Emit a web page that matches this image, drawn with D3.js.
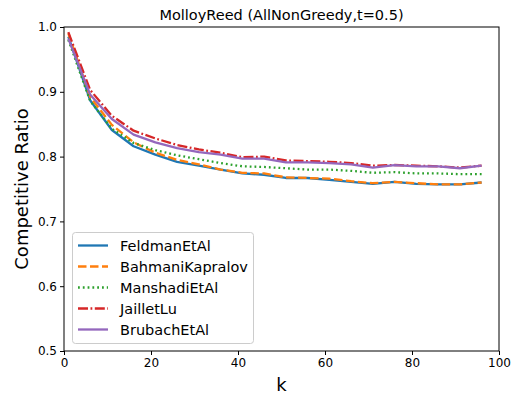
<!DOCTYPE html>
<html><head><meta charset="utf-8">
<script src="https://cdn.jsdelivr.net/npm/d3@7"></script>
<style>body{margin:0;background:#fff}svg{display:block;font-family:"DejaVu Sans",sans-serif}</style>
</head><body><svg id="c" width="520" height="396"></svg>
<script>
const ks = [1,6,11,16,21,26,31,36,41,46,51,56,61,66,71,76,81,86,91,96];
const feldman  = [0.985,0.887,0.841,0.816,0.803,0.792,0.786,0.780,0.774,0.772,0.767,0.767,0.764,0.761,0.758,0.761,0.758,0.757,0.757,0.760];
const bahmani  = [0.990,0.892,0.849,0.822,0.806,0.795,0.788,0.780,0.775,0.774,0.768,0.767,0.766,0.762,0.759,0.761,0.759,0.757,0.757,0.760];
const manshadi = [0.980,0.886,0.843,0.821,0.810,0.802,0.796,0.790,0.785,0.784,0.782,0.780,0.780,0.778,0.775,0.776,0.774,0.774,0.773,0.773];
const jaillet  = [0.992,0.903,0.863,0.840,0.828,0.818,0.811,0.806,0.799,0.800,0.794,0.793,0.792,0.790,0.786,0.787,0.786,0.785,0.783,0.786];
const brubach  = [0.982,0.896,0.858,0.834,0.822,0.813,0.807,0.803,0.797,0.797,0.791,0.791,0.790,0.788,0.783,0.787,0.785,0.785,0.782,0.786];
const seriesNames = ["FeldmanEtAl","BahmaniKapralov","ManshadiEtAl","JailletLu","BrubachEtAl"];
const seriesValues = [feldman,bahmani,manshadi,jaillet,brubach];
const xTicks = [0,20,40,60,80,100];
const yTicks = [0.5,0.6,0.7,0.8,0.9,1.0];
const colors = ["#1f77b4","#ff7f0e","#2ca02c","#d62728","#9467bd"];
const dashes = [null,"8.5,3.5","1.8,3","10,2.5,1.8,2.5",null];

const svg = d3.select("#c");
const L=64,R=499,T=27,B=351;
const x = d3.scaleLinear().domain([0,100]).range([L,R]);
const y = d3.scaleLinear().domain([0.5,1.0]).range([B,T]);

const line = d3.line().x((d,i)=>x(ks[i])).y(d=>y(d));
const g = svg.append("g");
seriesValues.forEach((vals,i)=>{
  g.append("path").attr("d",line(vals)).attr("fill","none")
   .attr("stroke",colors[i]).attr("stroke-width",2.3)
   .attr("stroke-dasharray",dashes[i]).attr("stroke-linejoin","round");
});

// frame
svg.append("rect").attr("x",L).attr("y",T).attr("width",R-L).attr("height",B-T)
  .attr("fill","none").attr("stroke","#000").attr("stroke-width",1);

const xa = svg.append("g").attr("transform",`translate(0,${B})`)
  .call(d3.axisBottom(x).tickValues(xTicks).tickFormat(d3.format("d")).tickSize(4).tickPadding(3));
const ya = svg.append("g").attr("transform",`translate(${L},0)`)
  .call(d3.axisLeft(y).tickValues(yTicks).tickFormat(d3.format(".1f")).tickSize(4).tickPadding(3));
[xa,ya].forEach(a=>{a.select(".domain").remove();
  a.selectAll("text").attr("font-size",12).attr("font-family","DejaVu Sans").attr("fill","#000");
  a.selectAll("line").attr("stroke","#000");});

svg.append("text").attr("x",(L+R)/2).attr("y",20).attr("text-anchor","middle")
  .attr("font-size",14.5).text("MolloyReed (AllNonGreedy,t=0.5)");
svg.append("text").attr("x",(L+R)/2).attr("y",391).attr("text-anchor","middle")
  .attr("font-size",18).text("k");
svg.append("text").attr("transform",`translate(28,${(T+B)/2}) rotate(-90)`).attr("text-anchor","middle")
  .attr("font-size",18).text("Competitive Ratio");

// legend
const lg = svg.append("g");
lg.append("rect").attr("x",72.5).attr("y",232.5).attr("width",181).attr("height",111).attr("rx",3)
  .attr("fill","#fff").attr("fill-opacity",0.8).attr("stroke","#ccc");
seriesNames.forEach((n,i)=>{
  const yy = 245.5 + i*21;
  lg.append("line").attr("x1",78).attr("x2",108).attr("y1",yy).attr("y2",yy)
    .attr("stroke",colors[i]).attr("stroke-width",2.3).attr("stroke-dasharray",dashes[i]);
  lg.append("text").attr("x",120).attr("y",yy+5).attr("font-size",14.5).text(n);
});
</script></body></html>
